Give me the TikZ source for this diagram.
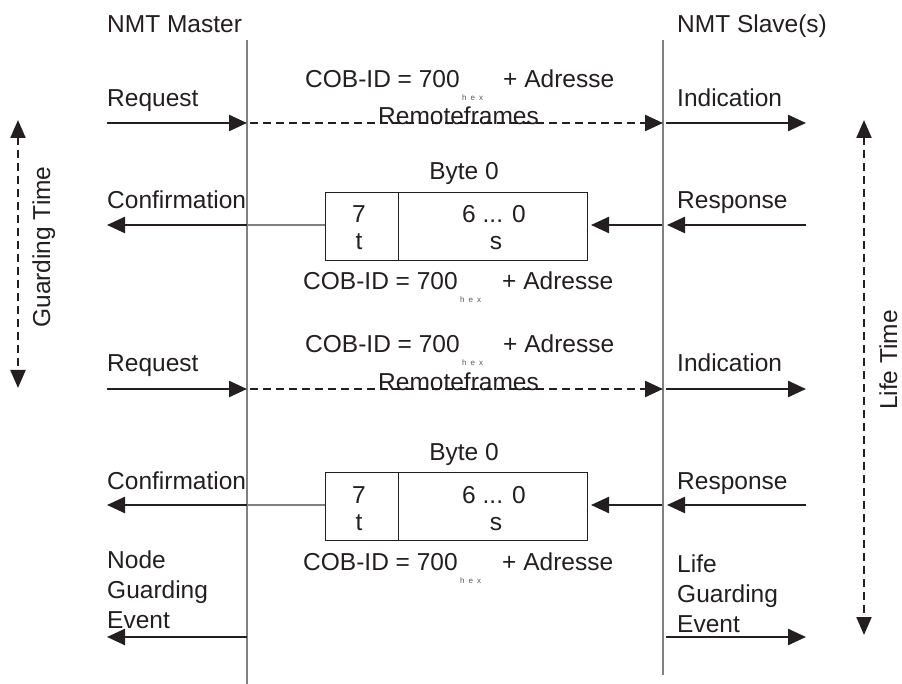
\documentclass[tikz,border=0pt]{standalone}
\usepackage{fontspec}
\setmainfont{Liberation Sans}
\usetikzlibrary{arrows.meta}
\definecolor{ink}{HTML}{231F20}
\definecolor{lifeline}{HTML}{808080}
\begin{document}
\begin{tikzpicture}[x=1pt,y=-1pt,
  txt/.style={inner sep=0pt,anchor=base west,text=ink,font=\fontsize{24.5}{29}\selectfont},
  ctxt/.style={txt,anchor=base},
  hexlbl/.style={inner sep=0pt,anchor=base west,text=ink!75,font=\fontsize{8}{9}\selectfont},
  lifel/.style={draw=lifeline,line width=1.3pt},
  msg/.style={draw=ink,line width=2.4pt,-{Triangle[length=18pt,width=16pt]}},
  remote/.style={msg,dash pattern=on 8pt off 5pt},
  timer/.style={draw=ink,line width=2.2pt,dash pattern=on 8pt off 5pt,{Triangle[length=18pt,width=15pt]}-{Triangle[length=18pt,width=15pt]}},
  frame/.style={draw=ink,line width=1pt},
  thin/.style={draw=lifeline,line width=1.2pt}
]
\useasboundingbox (0,0) rectangle (902,684);

% lifelines
\coordinate (mTop) at (247,40); \coordinate (mBot) at (247,684);
\coordinate (sTop) at (663,40); \coordinate (sBot) at (663,675);
\draw[lifel] (mTop) -- (mBot);
\draw[lifel] (sTop) -- (sBot);

\node[txt] (master) at (107,33) {NMT Master};
\node[txt] (slave) at (677,33) {NMT Slave(s)};

% timers
\coordinate (gtA) at (18,120); \coordinate (gtB) at (18,388);
\draw[timer] (gtA) -- (gtB);
\node[ctxt,rotate=90] (gtl) at (50,247) {Guarding Time};
\coordinate (ltA) at (864,120); \coordinate (ltB) at (864,635);
\draw[timer] (ltA) -- (ltB);
\node[ctxt,rotate=90] (ltl) at (897,360) {Life Time};

% ---------- cycle 1 ----------
\node[txt] (cob1) at (305,88) {COB-ID = 700};
\node[hexlbl] (hex1) at (462,101) {h\hspace{4pt}e\hspace{4pt}x};
\node[txt] (adr1) at (503,88) {+ Adresse};
\node[txt] (req1) at (107,107) {Request};
\node[txt] (ind1) at (677,107) {Indication};
\node[txt] (rf1) at (378,125) {Remoteframes};
\coordinate (r1a) at (107,123); \coordinate (r1b) at (247,123);
\coordinate (r1c) at (250,123); \coordinate (r1d) at (663,123);
\coordinate (r1e) at (666,123); \coordinate (r1f) at (806,123);
\draw[msg] (r1a) -- (r1b);
\draw[remote] (r1c) -- (r1d);
\draw[msg] (r1e) -- (r1f);

\node[ctxt] (byte1) at (464,180) {Byte 0};
\node[frame,minimum width=73pt,minimum height=68pt,inner sep=0pt,anchor=north west] (bt1) at (325,192) {};
\node[frame,minimum width=189pt,minimum height=68pt,inner sep=0pt,anchor=north west] (bs1) at (398,192) {};
\node[ctxt] (b7a) at (359,223) {7};
\node[ctxt] (b7b) at (359,250) {t};
\node[ctxt] (b6a) at (494,223) {6 ... 0};
\node[ctxt] (b6b) at (496,250) {s};
\node[txt] (conf1) at (107,209) {Confirmation};
\node[txt] (resp1) at (677,209) {Response};
\coordinate (c1a) at (247,225); \coordinate (c1b) at (107,225);
\coordinate (c1s) at (806,225); \coordinate (c1t) at (667,225);
\coordinate (c1u) at (662,225); \coordinate (c1v) at (591,225);
\draw[thin] (c1a) -- (c1a -| bt1.west);
\draw[msg] (c1a) -- (c1b);
\draw[msg] (c1s) -- (c1t);
\draw[msg] (c1u) -- (c1v);
\node[txt] (cob1b) at (303,290) {COB-ID = 700};
\node[hexlbl] (hex1b) at (460,303) {h\hspace{4pt}e\hspace{4pt}x};
\node[txt] (adr1b) at (502,290) {+ Adresse};

% ---------- cycle 2 ----------
\node[txt] (cob2) at (305,353) {COB-ID = 700};
\node[hexlbl] (hex2) at (462,366) {h\hspace{4pt}e\hspace{4pt}x};
\node[txt] (adr2) at (503,353) {+ Adresse};
\node[txt] (req2) at (107,372) {Request};
\node[txt] (ind2) at (677,372) {Indication};
\node[txt] (rf2) at (378,391) {Remoteframes};
\coordinate (r2a) at (107,389); \coordinate (r2b) at (247,389);
\coordinate (r2c) at (250,389); \coordinate (r2d) at (663,389);
\coordinate (r2e) at (666,389); \coordinate (r2f) at (806,389);
\draw[msg] (r2a) -- (r2b);
\draw[remote] (r2c) -- (r2d);
\draw[msg] (r2e) -- (r2f);

\node[ctxt] (byte2) at (464,460) {Byte 0};
\node[frame,minimum width=73pt,minimum height=68pt,inner sep=0pt,anchor=north west] (bt2) at (325,472) {};
\node[frame,minimum width=189pt,minimum height=68pt,inner sep=0pt,anchor=north west] (bs2) at (398,472) {};
\node[ctxt] (b7c) at (359,503) {7};
\node[ctxt] (b7d) at (359,530) {t};
\node[ctxt] (b6c) at (494,503) {6 ... 0};
\node[ctxt] (b6d) at (496,530) {s};
\node[txt] (conf2) at (107,489) {Confirmation};
\node[txt] (resp2) at (677,489) {Response};
\coordinate (c2a) at (247,505); \coordinate (c2b) at (107,505);
\coordinate (c2s) at (806,505); \coordinate (c2t) at (667,505);
\coordinate (c2u) at (662,505); \coordinate (c2v) at (591,505);
\draw[thin] (c2a) -- (c2a -| bt2.west);
\draw[msg] (c2a) -- (c2b);
\draw[msg] (c2s) -- (c2t);
\draw[msg] (c2u) -- (c2v);
\node[txt] (cob2b) at (303,570) {COB-ID = 700};
\node[hexlbl] (hex2b) at (460,583) {h\hspace{4pt}e\hspace{4pt}x};
\node[txt] (adr2b) at (502,570) {+ Adresse};

% ---------- guarding events ----------
\node[txt] (ng1) at (107,568) {Node};
\node[txt] (ng2) at (107,598) {Guarding};
\node[txt] (ng3) at (107,628) {Event};
\node[txt] (lg1) at (677,572) {Life};
\node[txt] (lg2) at (677,602) {Guarding};
\node[txt] (lg3) at (677,632) {Event};
\coordinate (ea) at (247,637); \coordinate (eb) at (107,637);
\coordinate (ec) at (666,637); \coordinate (ed) at (806,637);
\draw[msg] (ea) -- (eb);
\draw[msg] (ec) -- (ed);
\end{tikzpicture}
\end{document}
